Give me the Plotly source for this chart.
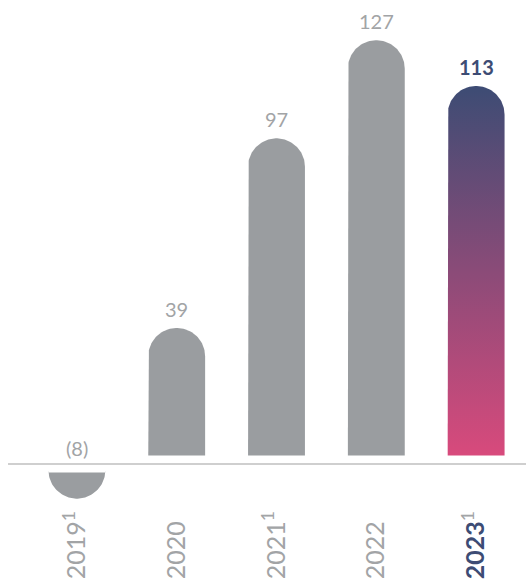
import numpy as np
import plotly.graph_objects as go

years = ["2019", "2020", "2021", "2022", "2023"]
tick_labels = ["20191", "2020", "20211", "2022", "20231"]
values = [-8, 39, 97, 127, 113]
value_labels = ["(8)", "39", "97", "127", "113"]

grey = "#9a9da0"
label_grey = "#a2a4a6"
navy = "#3d4c74"
pink = "#d84a7c"

gap = 2.6          # little space between the bars and the zero line
bar_w = 0.57
y_range = [-12.54, 141.9]
plot_h = 505       # 580 - bottom margin
px_per_unit = plot_h / (y_range[1] - y_range[0])
px_per_cat = 499 / 5

x = list(range(len(years)))
bases = [gap if v >= 0 else -gap for v in values]


def pill(xc, base, v):
    # bar outline with a round cap at the far end from the zero line
    half = bar_w / 2
    r = half * px_per_cat / px_per_unit
    end = base + v
    sign = 1 if v >= 0 else -1
    t = np.linspace(np.pi, 0, 60)
    xs = [xc - half] + list(xc + half * np.cos(t)) + [xc + half, xc - half]
    ys = [base] + list(end - sign * r + sign * r * np.sin(t)) + [base, base]
    return xs, ys


fig = go.Figure()

for xi, v, b in zip(x, values, bases):
    xs, ys = pill(xi, b, v)
    if xi == x[-1]:
        fill = dict(fillgradient=dict(type="vertical", colorscale=[[0, pink], [1, navy]]))
    else:
        fill = dict(fillcolor=grey)
    fig.add_trace(go.Scatter(x=xs, y=ys, mode="lines", fill="toself",
                             line=dict(width=0), hoverinfo="skip", **fill))

# value labels
for xi, v, b, txt in zip(x, values, bases, value_labels):
    last = xi == x[-1]
    fig.add_annotation(
        x=xi, y=(b + v) if v >= 0 else 0, yanchor="bottom", yshift=5 if v >= 0 else 2,
        text="<b>" + txt + "</b>" if last else txt, showarrow=False,
        font=dict(family="Lato", size=20, color=navy if last else label_grey),
    )

ticktext = []
for lab in tick_labels:
    yr, sup = lab[:4], lab[4:]
    if yr == "2023":
        s = "<b><span style='color:%s'>%s</span></b>" % (navy, yr)
    else:
        s = yr
    if sup:
        s += "<sup>" + sup + "</sup>"
    else:
        # invisible footnote mark so all years line up at the bottom
        s += "<sup><span style='color:rgba(255,255,255,0)'>1</span></sup>"
    ticktext.append(s)

fig.add_shape(type="line", xref="paper", yref="y", x0=-0.038, x1=1, y0=0, y1=0,
              line=dict(color="#cfcfcf", width=2))

fig.update_layout(
    width=526, height=580, autosize=False,
    margin=dict(l=27, r=0, t=0, b=75),
    paper_bgcolor="white", plot_bgcolor="white",
    showlegend=False,
    xaxis=dict(range=[-0.5, 4.5], tickvals=x, ticktext=ticktext, tickangle=-90,
               showgrid=False, zeroline=False, showline=False, ticks="",
               automargin=False,
               tickfont=dict(family="Lato", size=25, color=label_grey), fixedrange=True),
    yaxis=dict(range=y_range, visible=False, fixedrange=True, automargin=False),
)

fig.write_html("out.html", config={"displayModeBar": False},
               post_script="document.body.style.margin='0';")
